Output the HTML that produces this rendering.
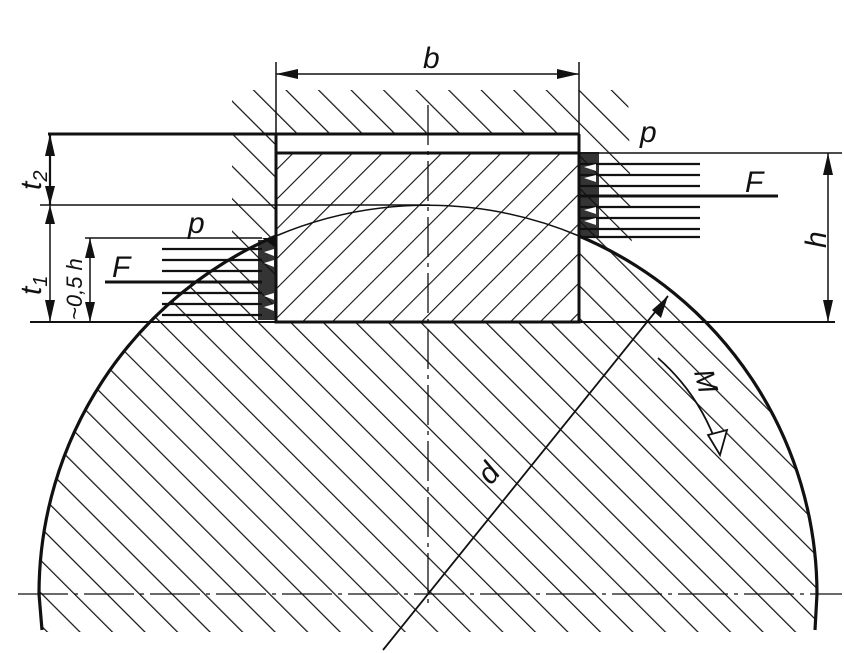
<!DOCTYPE html>
<html><head><meta charset="utf-8"><style>
html,body{margin:0;padding:0;background:#fff;overflow:hidden;width:844px;height:653px;}
svg{display:block;}
text{font-family:"Liberation Sans",sans-serif;font-style:italic;fill:#111;}
</style></head><body>
<svg width="844" height="653" viewBox="0 0 844 653" xmlns="http://www.w3.org/2000/svg">
<defs>
  <pattern id="hb" patternUnits="userSpaceOnUse" width="23" height="23" patternTransform="rotate(-45)">
    <line x1="0" y1="0" x2="0" y2="23" stroke="#111" stroke-width="2.4"/>
  </pattern>
  <pattern id="hk" patternUnits="userSpaceOnUse" width="21" height="21" patternTransform="rotate(45)">
    <line x1="0" y1="0" x2="0" y2="21" stroke="#111" stroke-width="2.2"/>
  </pattern>
  <mask id="hubmask">
    <rect x="0" y="0" width="844" height="653" fill="#fff"/>
    <circle cx="428" cy="594" r="389" fill="#000"/>
    <rect x="276" y="134" width="303" height="200" fill="#000"/>
  </mask>
  <mask id="shaftmask">
    <rect x="0" y="0" width="844" height="653" fill="#fff"/>
    <rect x="276" y="0" width="303" height="322" fill="#000"/>
    <rect x="0" y="632" width="844" height="30" fill="#000"/>
  </mask>
</defs>

<polygon points="232,90 628,90 632,250 232,250" fill="url(#hb)" mask="url(#hubmask)"/>
<circle cx="428" cy="594" r="389" fill="url(#hb)" mask="url(#shaftmask)"/>
<rect x="276" y="153" width="303" height="169" fill="url(#hk)"/>

<g stroke="#111" fill="none">
  <rect x="276" y="153" width="303" height="169" stroke-width="3"/>
  <line x1="276" y1="134" x2="276" y2="153" stroke-width="3"/>
  <line x1="579" y1="134" x2="579" y2="153" stroke-width="3"/>
  <line x1="48" y1="134" x2="579" y2="134" stroke-width="3"/>
  <path d="M276,236 A389,389 0 0 0 39,594 L42,630" stroke-width="3.2"/>
  <path d="M579,236 A389,389 0 0 1 817,594 L815,630" stroke-width="3.2"/>
  <path d="M276,236 A389,389 0 0 1 579,236" stroke-width="1.5"/>
  <line x1="30" y1="322" x2="835" y2="322" stroke-width="2"/>
  <line x1="40" y1="205" x2="430" y2="205" stroke-width="1.5"/>
  <line x1="579" y1="153" x2="842" y2="153" stroke-width="1.5"/>
  <line x1="85" y1="238" x2="262" y2="238" stroke-width="1.5"/>
  <line x1="428" y1="105" x2="428" y2="605" stroke-width="1.3" stroke-dasharray="40,6,4,6"/>
  <line x1="18" y1="594" x2="842" y2="594" stroke-width="1.3" stroke-dasharray="50,6,4,6"/>
  <line x1="276" y1="62" x2="276" y2="134" stroke-width="1.5"/>
  <line x1="579" y1="62" x2="579" y2="134" stroke-width="1.5"/>
  <line x1="276" y1="74" x2="579" y2="74" stroke-width="1.5"/>
  <line x1="828" y1="153" x2="828" y2="322" stroke-width="1.5"/>
  <line x1="50" y1="134" x2="50" y2="205" stroke-width="2.2"/>
  <line x1="50" y1="205" x2="50" y2="322" stroke-width="1.5"/>
  <line x1="90" y1="238" x2="90" y2="322" stroke-width="1.5"/>
  <g stroke-width="2.2">
    <line x1="162" y1="249" x2="262" y2="249"/>
    <line x1="162" y1="260" x2="262" y2="260"/>
    <line x1="162" y1="271" x2="262" y2="271"/>
    <line x1="162" y1="293" x2="262" y2="293"/>
    <line x1="162" y1="304" x2="262" y2="304"/>
    <line x1="162" y1="315" x2="262" y2="315"/>
    <line x1="105" y1="282" x2="262" y2="282" stroke-width="3"/>
  </g>
  <g stroke-width="2.2">
    <line x1="580" y1="164" x2="700" y2="164"/>
    <line x1="580" y1="175" x2="700" y2="175"/>
    <line x1="580" y1="186" x2="700" y2="186"/>
    <line x1="580" y1="207" x2="700" y2="207"/>
    <line x1="580" y1="218" x2="700" y2="218"/>
    <line x1="580" y1="229" x2="700" y2="229"/>
    <line x1="580" y1="237" x2="700" y2="237"/>
    <line x1="580" y1="196" x2="778" y2="196" stroke-width="3"/>
  </g>
  <line x1="383" y1="650" x2="668" y2="296" stroke-width="1.8"/>
  <path d="M658,358 Q700,395 718,448" stroke-width="1.8"/>
</g>

<g fill="#111">
  <polygon points="276,74 298,69 298,79"/>
  <polygon points="579,74 557,69 557,79"/>
  <polygon points="828,153 823,175 833,175"/>
  <polygon points="828,322 823,300 833,300"/>
  <polygon points="50,134 45,156 55,156"/>
  <polygon points="50,205 45,186 55,186"/>
  <polygon points="50,205 45,224 55,224"/>
  <polygon points="50,322 45,300 55,300"/>
  <polygon points="90,238 85,258 95,258"/>
  <polygon points="90,322 85,302 95,302"/>
  <polygon points="668,296 652,310 661,318"/>
  <polygon points="262,238 276,238 276,248"/>
  <rect x="258" y="240" width="18" height="80" opacity="0.85"/>
  <rect x="579" y="152" width="20" height="86" opacity="0.85"/>
</g>
<g fill="#fff">
  <polygon points="264,252 274,249 274,256"/>
  <polygon points="264,263 274,260 274,267"/>
  <polygon points="264,296 274,293 274,300"/>
  <polygon points="264,307 274,304 274,311"/>
  <polygon points="584,167 596,164 596,171"/>
  <polygon points="584,178 596,175 596,182"/>
  <polygon points="584,210 596,207 596,214"/>
  <polygon points="584,221 596,218 596,225"/>
</g>
<polygon points="708,435 727,430 720,455" fill="#fff" stroke="#111" stroke-width="1.8"/>

<text x="423" y="68" font-size="30">b</text>
<text x="640" y="142" font-size="30">p</text>
<text x="745" y="192" font-size="30">F</text>
<text x="188" y="233" font-size="30">p</text>
<text x="112" y="277" font-size="30">F</text>
<text transform="translate(826,248) rotate(-90)" font-size="30">h</text>
<text transform="translate(41,190) rotate(-90)" font-size="30">t<tspan font-size="20" dy="6">2</tspan></text>
<text transform="translate(41,295) rotate(-90)" font-size="30">t<tspan font-size="20" dy="6">1</tspan></text>
<text transform="translate(82,320) rotate(-90)" font-size="22">~0,5 h</text>
<text transform="translate(491,486) rotate(-51)" font-size="30">d</text>
<text transform="translate(694,372) rotate(76)" font-size="28">M</text>
</svg>
</body></html>
